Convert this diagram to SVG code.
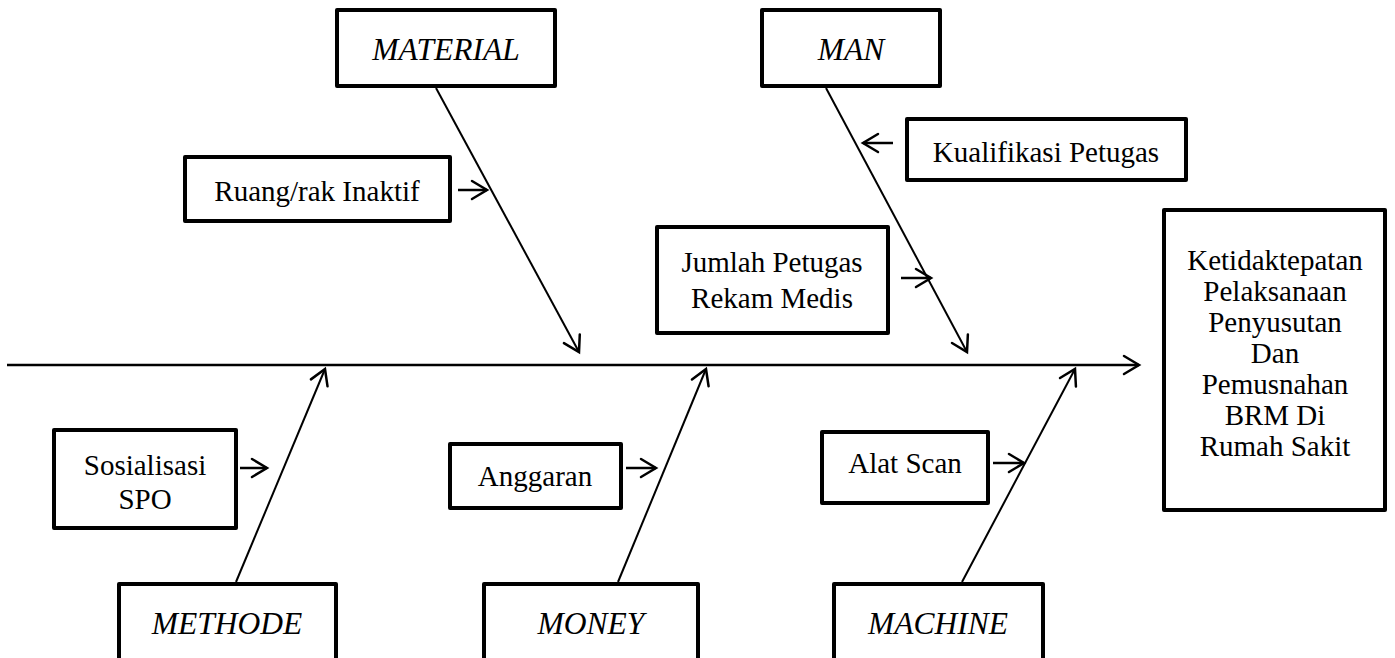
<svg xmlns="http://www.w3.org/2000/svg" width="1395" height="658" viewBox="0 0 1395 658">
<style>
.box{fill:#fff;stroke:#000;stroke-width:4;stroke-linejoin:round}
.t{font-family:"Liberation Serif","Times New Roman",serif;font-size:29px;fill:#000;text-anchor:middle}
.i{font-style:italic;font-size:31.5px}
.bone{stroke:#000;stroke-width:2;fill:none}
.spine{stroke:#000;stroke-width:2.5;fill:none}
.sub{stroke:#000;stroke-width:2.5;fill:none}
</style>
<defs>
<marker id="ah" markerUnits="userSpaceOnUse" markerWidth="30" markerHeight="30" viewBox="-20 -15 30 30" refX="0" refY="0" orient="auto">
<path d="M-15,-9 L0,0 L-15,9" fill="none" stroke="#000" stroke-width="2.5" stroke-linecap="round" stroke-linejoin="miter"/>
</marker>
</defs>
<rect width="1395" height="658" fill="#fff"/>
<g id="connectors">
<line class="spine" x1="7" y1="365" x2="1139" y2="365" marker-end="url(#ah)"/>
<line class="bone" x1="436" y1="88" x2="579" y2="352" marker-end="url(#ah)"/>
<line class="bone" x1="826" y1="88" x2="967" y2="352" marker-end="url(#ah)"/>
<line class="bone" x1="236" y1="582" x2="325" y2="369" marker-end="url(#ah)"/>
<line class="bone" x1="618" y1="582" x2="706" y2="369" marker-end="url(#ah)"/>
<line class="bone" x1="962" y1="582" x2="1075" y2="369" marker-end="url(#ah)"/>
<line class="sub" x1="458" y1="190" x2="487" y2="190" marker-end="url(#ah)"/>
<line class="sub" x1="893" y1="143" x2="863" y2="143" marker-end="url(#ah)"/>
<line class="sub" x1="901" y1="278" x2="931" y2="278" marker-end="url(#ah)"/>
<line class="sub" x1="240" y1="468" x2="267" y2="468" marker-end="url(#ah)"/>
<line class="sub" x1="626" y1="468" x2="656" y2="468" marker-end="url(#ah)"/>
<line class="sub" x1="993" y1="463" x2="1024" y2="463" marker-end="url(#ah)"/>
</g>
<g id="material"><rect class="box" x="337" y="10" width="218" height="76"/><text class="t i" x="446" y="60">MATERIAL</text></g>
<g id="man"><rect class="box" x="762" y="10" width="178" height="76"/><text class="t i" x="851" y="60">MAN</text></g>
<g id="kualifikasi"><rect class="box" x="907" y="119" width="279" height="61"/><text class="t" x="1046" y="162">Kualifikasi Petugas</text></g>
<g id="ruang"><rect class="box" x="185" y="157" width="265" height="64"/><text class="t" x="317" y="201">Ruang/rak Inaktif</text></g>
<g id="jumlah"><rect class="box" x="657" y="227" width="231" height="106"/><text class="t" x="772" y="272">Jumlah Petugas</text><text class="t" x="772" y="308">Rekam Medis</text></g>
<g id="sosialisasi"><rect class="box" x="54" y="430" width="182" height="98"/><text class="t" x="145" y="475">Sosialisasi</text><text class="t" x="145" y="509">SPO</text></g>
<g id="anggaran"><rect class="box" x="450" y="444" width="171" height="64"/><text class="t" x="535" y="486">Anggaran</text></g>
<g id="alatscan"><rect class="box" x="822" y="432" width="166" height="71"/><text class="t" x="905" y="473">Alat Scan</text></g>
<g id="methode"><rect class="box" x="119" y="584" width="217" height="90"/><text class="t i" x="227" y="634">METHODE</text></g>
<g id="money"><rect class="box" x="484" y="584" width="214" height="90"/><text class="t i" x="591" y="634">MONEY</text></g>
<g id="machine"><rect class="box" x="834" y="584" width="209" height="90"/><text class="t i" x="938" y="634">MACHINE</text></g>
<g id="effect"><rect class="box" x="1164" y="210" width="221" height="300"/>
<text class="t" x="1275" y="270">Ketidaktepatan</text>
<text class="t" x="1275" y="301">Pelaksanaan</text>
<text class="t" x="1275" y="332">Penyusutan</text>
<text class="t" x="1275" y="363">Dan</text>
<text class="t" x="1275" y="394">Pemusnahan</text>
<text class="t" x="1275" y="425">BRM Di</text>
<text class="t" x="1275" y="456">Rumah Sakit</text>
</g>
</svg>
